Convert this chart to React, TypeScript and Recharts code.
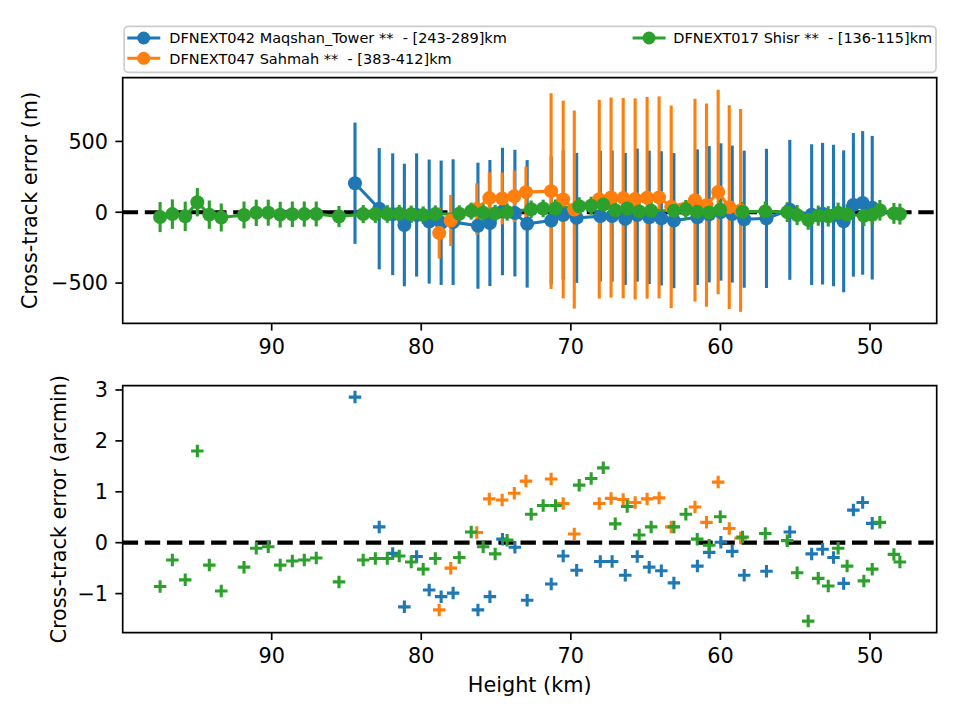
import React from 'react';
import {
  ComposedChart,
  ScatterChart,
  Line,
  Scatter,
  XAxis,
  YAxis,
  ErrorBar,
  ReferenceLine,
  ReferenceArea,
} from 'recharts';

const FONT = '"DejaVu Sans", sans-serif';

// ---- DFNEXT042 Maqshan_Tower ----
const maqshanHeight = [84.43, 82.81, 81.91, 81.13, 80.31, 79.47, 78.67, 77.87, 76.21, 75.41, 74.57, 73.74, 72.92, 71.31, 70.51, 69.61, 68.03, 67.24, 66.36, 65.56, 64.76, 63.95, 63.11, 61.54, 60.75, 59.97, 59.21, 58.41, 56.92, 55.36, 53.9, 53.17, 52.44, 51.76, 51.11, 50.49, 49.85];
const maqshanOffsetM = [205, 25, -14, -90, -19, -66, -74, -70, -95, -76, 5, -6, -82, -59, -19, -40, -27, -27, -47, -20, -36, -43, -59, -35, -14, 2, -13, -49, -43, 17, -17, -10, -23, -64, 52, 66, 32];
const maqshanErrM = [428, 428, 430, 433, 435, 438, 439, 444, 445, 445, 450, 447, 450, 452, 455, 459, 462, 463, 466, 470, 471, 474, 477, 479, 481, 485, 484, 484, 491, 494, 497, 500, 500, 501, 507, 507, 507];
const maqshanOffsetArcmin = [2.86, 0.31, -0.21, -1.26, -0.27, -0.93, -1.06, -0.99, -1.32, -1.06, 0.07, -0.09, -1.13, -0.81, -0.26, -0.54, -0.37, -0.37, -0.64, -0.27, -0.48, -0.55, -0.79, -0.46, -0.19, 0.01, -0.17, -0.64, -0.56, 0.21, -0.22, -0.13, -0.29, -0.8, 0.64, 0.79, 0.38];

// ---- DFNEXT047 Sahmah ----
const sahmahHeight = [78.8, 78.03, 76.29, 75.45, 74.59, 73.78, 73.0, 71.32, 70.51, 69.77, 68.1, 67.31, 66.5, 65.7, 64.9, 64.1, 63.29, 61.7, 60.93, 60.15, 59.41, 58.65];
const sahmahOffsetM = [-147, -58, 23, 100, 97, 113, 142, 149, 90, 19, 92, 104, 100, 94, 102, 105, 38, 85, 50, 143, 36, 13];
const sahmahErrM = [180, 180, 181, 182, 183, 182, 181, 691, 698, 699, 702, 706, 707, 710, 712, 713, 715, 716, 718, 722, 720, 716];
const sahmahOffsetArcmin = [-1.32, -0.5, 0.2, 0.86, 0.84, 0.97, 1.21, 1.25, 0.77, 0.17, 0.77, 0.87, 0.85, 0.79, 0.86, 0.88, 0.31, 0.7, 0.4, 1.19, 0.28, 0.09];

// ---- DFNEXT017 Shisr ----
const shisrHeight = [97.46, 96.64, 95.78, 94.97, 94.17, 93.37, 91.85, 91.03, 90.23, 89.43, 88.62, 87.82, 87.02, 85.5, 83.88, 83.07, 82.27, 81.47, 80.67, 79.87, 79.06, 77.46, 76.66, 75.86, 75.06, 74.26, 72.65, 71.85, 71.02, 69.44, 68.64, 67.83, 67.03, 66.23, 65.43, 64.63, 63.11, 62.31, 61.55, 60.75, 60.01, 58.52, 57.0, 55.53, 54.87, 54.13, 53.46, 52.79, 52.13, 51.53, 50.41, 49.85, 49.34, 48.4, 48.0];
const shisrOffsetM = [-34, -13, -29, 71, -17, -37, -19, -4, -3, -17, -14, -13, -12, -30, -13, -12, -12, -10, -14, -20, -12, -11, 8, -3, -8, 2, 21, 27, 27, 42, 46, 54, 14, 26, 5, 11, 11, 20, 3, -2, 18, 4, 6, 1, -20, -53, -24, -29, -4, -16, -25, -18, 14, -8, -13];
const shisrErrM = [106, 104, 104, 100, 100, 99, 95, 93, 92, 91, 90, 89, 88, 75, 64, 63, 62, 62, 61, 61, 60, 60, 60, 60, 60, 61, 62, 62, 63, 64, 64, 65, 65, 66, 66, 66, 67, 67, 68, 68, 68, 69, 70, 70, 71, 71, 71, 72, 72, 72, 73, 73, 73, 74, 74];
const shisrOffsetArcmin = [-0.86, -0.34, -0.73, 1.8, -0.44, -0.95, -0.48, -0.11, -0.08, -0.44, -0.36, -0.34, -0.3, -0.77, -0.34, -0.31, -0.31, -0.26, -0.38, -0.52, -0.31, -0.29, 0.21, -0.08, -0.22, 0.05, 0.56, 0.73, 0.73, 1.13, 1.26, 1.47, 0.37, 0.71, 0.15, 0.31, 0.31, 0.56, 0.07, -0.05, 0.51, 0.11, 0.18, 0.04, -0.59, -1.54, -0.7, -0.85, -0.11, -0.46, -0.75, -0.52, 0.4, -0.23, -0.38];

const seriesNames = [
  'DFNEXT042 Maqshan_Tower **  - [243-289]km',
  'DFNEXT047 Sahmah **  - [383-412]km',
  'DFNEXT017 Shisr **  - [136-115]km',
];
const seriesColors = ['#1f77b4', '#ff7f0e', '#2ca02c'];

const heightTicks = [90, 80, 70, 60, 50];
const meterTicks = [-500, 0, 500];
const arcminTicks = [-1, 0, 1, 2, 3];

const heightDomain: [number, number] = [45.54, 99.96];
const meterDomain: [number, number] = [-784, 950];
const arcminDomain: [number, number] = [-1.768, 3.084];

type Row = { h: number; v: number; e: number; a: number };
const toRows = (h: number[], v: number[], e: number[], a: number[]): Row[] =>
  h.map((x, i) => ({ h: x, v: v[i], e: e[i], a: a[i] }));

const series = [
  toRows(maqshanHeight, maqshanOffsetM, maqshanErrM, maqshanOffsetArcmin),
  toRows(sahmahHeight, sahmahOffsetM, sahmahErrM, sahmahOffsetArcmin),
  toRows(shisrHeight, shisrOffsetM, shisrErrM, shisrOffsetArcmin),
];

// layout (page pixels)
const PLOT_LEFT = 122.7;
const PLOT_RIGHT = 936.7;
const TOP1 = 77.7;
const BOTTOM1 = 323.3;
const TOP2 = 385.7;
const BOTTOM2 = 632.7;
const CHART1_H = 370;
const CHART2_Y = 370;
const CHART2_H = 350;

const TICK_FONT = 20.8;
const tickStyle = { fill: '#000', fontSize: TICK_FONT, fontFamily: FONT };
const tickLine = { stroke: '#000', strokeWidth: 1.67 };
const fmt = (v: number) => String(v).replace('-', '\u2212');

const plusShape = (color: string) => (props: any) => {
  const { cx, cy } = props;
  if (cx == null || cy == null) return <g />;
  const s = 6.25;
  return (
    <path
      d={`M${cx - s},${cy}H${cx + s}M${cx},${cy - s}V${cy + s}`}
      stroke={color}
      strokeWidth={3.1}
      fill="none"
    />
  );
};

export default function App() {
  return (
    <div style={{ position: 'absolute', left: 0, top: 0, width: 960, height: 720, background: '#fff', fontFamily: FONT }}>
      {/* upper panel: cross-track error in metres with error bars */}
      <div style={{ position: 'absolute', left: 0, top: 0 }}>
        <ComposedChart
          width={960}
          height={CHART1_H}
          margin={{ top: TOP1, right: 960 - PLOT_RIGHT, bottom: 0, left: 0 }}
        >
          <XAxis
            type="number"
            dataKey="h"
            domain={heightDomain}
            allowDataOverflow
            reversed
            ticks={heightTicks}
            tickFormatter={fmt}
            height={CHART1_H - BOTTOM1}
            axisLine={false}
            tickLine={tickLine}
            tickSize={7.3}
            tickMargin={9}
            tick={tickStyle}
          />
          <YAxis
            type="number"
            domain={meterDomain}
            allowDataOverflow
            ticks={meterTicks}
            tickFormatter={fmt}
            width={PLOT_LEFT}
            axisLine={false}
            tickLine={tickLine}
            tickSize={7.3}
            tickMargin={7.3}
            tick={tickStyle}
          />
          <ReferenceLine y={0} stroke="#000" strokeWidth={4.17} strokeDasharray="15.4 6.7" />
          {series.map((rows, i) => (
            <Line
              key={seriesNames[i]}
              data={rows}
              dataKey="v"
              type="linear"
              stroke={seriesColors[i]}
              strokeWidth={3.1}
              dot={{ r: 7, fill: seriesColors[i], stroke: 'none', strokeWidth: 0 }}
              activeDot={false}
              isAnimationActive={false}
            >
              <ErrorBar dataKey="e" direction="y" width={0} stroke={seriesColors[i]} strokeWidth={3.1} />
            </Line>
          ))}
          <ReferenceArea
            x1={heightDomain[0]}
            x2={heightDomain[1]}
            y1={meterDomain[0]}
            y2={meterDomain[1]}
            fill="none"
            stroke="#000"
            strokeWidth={1.67}
            ifOverflow="visible"
          />
        </ComposedChart>
      </div>

      {/* lower panel: cross-track error in arcminutes */}
      <div style={{ position: 'absolute', left: 0, top: CHART2_Y }}>
        <ScatterChart
          width={960}
          height={CHART2_H}
          margin={{ top: TOP2 - CHART2_Y, right: 960 - PLOT_RIGHT, bottom: 0, left: 0 }}
        >
          <XAxis
            type="number"
            dataKey="h"
            domain={heightDomain}
            allowDataOverflow
            reversed
            ticks={heightTicks}
            tickFormatter={fmt}
            height={CHART2_Y + CHART2_H - BOTTOM2}
            axisLine={false}
            tickLine={tickLine}
            tickSize={7.3}
            tickMargin={8}
            tick={tickStyle}
          />
          <YAxis
            type="number"
            dataKey="a"
            domain={arcminDomain}
            allowDataOverflow
            ticks={arcminTicks}
            tickFormatter={fmt}
            width={PLOT_LEFT}
            axisLine={false}
            tickLine={tickLine}
            tickSize={7.3}
            tickMargin={7.3}
            tick={tickStyle}
          />
          <ReferenceLine y={0} stroke="#000" strokeWidth={4.17} strokeDasharray="15.4 6.7" />
          {series.map((rows, i) => (
            <Scatter
              key={seriesNames[i]}
              data={rows}
              shape={plusShape(seriesColors[i])}
              isAnimationActive={false}
            />
          ))}
          <ReferenceArea
            x1={heightDomain[0]}
            x2={heightDomain[1]}
            y1={arcminDomain[0]}
            y2={arcminDomain[1]}
            fill="none"
            stroke="#000"
            strokeWidth={1.67}
            ifOverflow="visible"
          />
        </ScatterChart>
      </div>

      {/* axis titles and legend */}
      <svg
        width={960}
        height={720}
        style={{ position: 'absolute', left: 0, top: 0, pointerEvents: 'none' }}
        fontFamily={FONT}
      >
        <text
          transform={`translate(37.3,${(TOP1 + BOTTOM1) / 2}) rotate(-90)`}
          textAnchor="middle"
          fontSize={TICK_FONT}
          fill="#000"
        >
          Cross-track error (m)
        </text>
        <text
          transform={`translate(66,${(TOP2 + BOTTOM2) / 2}) rotate(-90)`}
          textAnchor="middle"
          fontSize={TICK_FONT}
          fill="#000"
        >
          Cross-track error (arcmin)
        </text>
        <text x={(PLOT_LEFT + PLOT_RIGHT) / 2} y={692.3} textAnchor="middle" fontSize={TICK_FONT} fill="#000">
          Height (km)
        </text>

        <rect x={124.2} y={26.3} width={811.8} height={46} rx={4} fill="#fff" fillOpacity={0.8} stroke="#cccccc" strokeWidth={1.67} />
        {seriesNames.map((name, i) => {
          const col = i === 2 ? 1 : 0;
          const row = i === 2 ? 0 : i;
          const hx = col ? 632.6 : 127.3;
          const tx = col ? 673.3 : 169.3;
          const cy = 38 + row * 20.3;
          return (
            <g key={name}>
              <line x1={hx} x2={hx + 33} y1={cy} y2={cy} stroke={seriesColors[i]} strokeWidth={3.1} />
              <circle cx={hx + 16.4} cy={cy} r={6.5} fill={seriesColors[i]} />
              <text x={tx} y={cy + 5.2} fontSize={14.5} fill="#000" style={{ whiteSpace: 'pre' }}>
                {name}
              </text>
            </g>
          );
        })}
      </svg>
    </div>
  );
}
